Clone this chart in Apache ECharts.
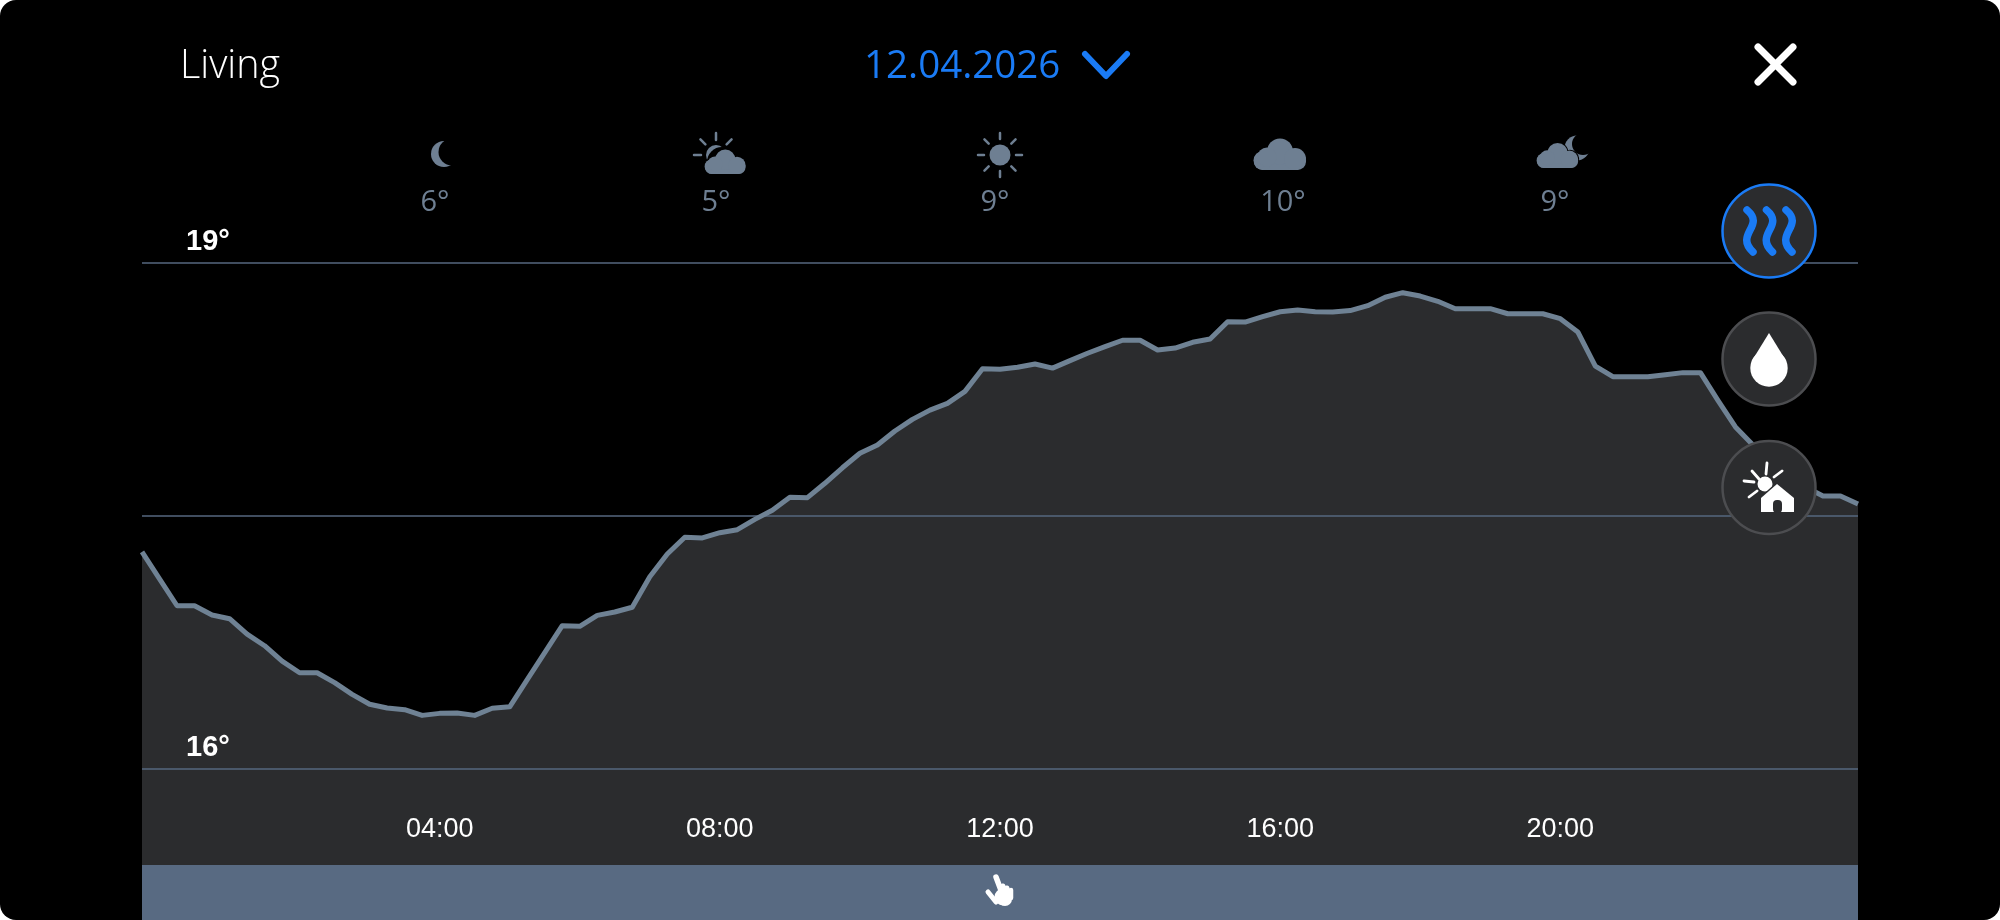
<!DOCTYPE html>
<html><head><meta charset="utf-8">
<style>html,body{margin:0;padding:0;background:#fff;width:2000px;height:920px;overflow:hidden}
#c{width:2000px;height:920px;background:#000;border-radius:16px;overflow:hidden}</style>
<script src="https://cdn.jsdelivr.net/npm/echarts@6/dist/echarts.min.js"></script>
</head><body><div id="c"></div>
<script>
const times = ["23:45","00:00","00:15","00:30","00:45","01:00","01:15","01:30","01:45","02:00","02:15","02:30","02:45","03:00","03:15","03:30","03:45","04:00","04:15","04:30","04:45","05:00","05:15","05:30","05:45","06:00","06:15","06:30","06:45","07:00","07:15","07:30","07:45","08:00","08:15","08:30","08:45","09:00","09:15","09:30","09:45","10:00","10:15","10:30","10:45","11:00","11:15","11:30","11:45","12:00","12:15","12:30","12:45","13:00","13:15","13:30","13:45","14:00","14:15","14:30","14:45","15:00","15:15","15:30","15:45","16:00","16:15","16:30","16:45","17:00","17:15","17:30","17:45","18:00","18:15","18:30","18:45","19:00","19:15","19:30","19:45","20:00","20:15","20:30","20:45","21:00","21:15","21:30","21:45","22:00","22:15","22:30","22:45","23:00","23:15","23:30","23:45","24:00","24:15"];
const temperature = [17.287,17.127,16.968,16.968,16.913,16.891,16.800,16.731,16.640,16.571,16.571,16.512,16.443,16.384,16.362,16.352,16.318,16.330,16.332,16.318,16.360,16.369,16.530,16.690,16.850,16.846,16.911,16.931,16.959,17.140,17.275,17.374,17.370,17.401,17.419,17.480,17.534,17.611,17.609,17.694,17.786,17.872,17.921,18.004,18.073,18.128,18.168,18.239,18.373,18.370,18.382,18.401,18.377,18.421,18.465,18.504,18.542,18.542,18.484,18.496,18.530,18.549,18.652,18.650,18.682,18.711,18.721,18.711,18.710,18.718,18.747,18.797,18.824,18.804,18.773,18.729,18.729,18.729,18.699,18.699,18.699,18.670,18.591,18.389,18.326,18.326,18.326,18.338,18.350,18.350,18.186,18.028,17.921,17.826,17.749,17.672,17.619,17.619,17.571];
const xTickLabels = ["04:00","08:00","12:00","16:00","20:00"];
const yGridValues = [16,17.5,19];
const yLabelValues = [16,19];
const outsideTemps = ["6°","5°","9°","10°","9°"];
const outsideTempX = [435,716,995,1283,1555];
const roomName = "Living";
const dateText = "12.04.2026";

const grey='#6e7f92', blue='#1a7bf5', white='#fff', pane='#2b2c2e', Z=20;
const T=(text,x,y,font,fill,align)=>({type:'text',z:Z,style:{text,x,y,font,fill,align:align||'left',verticalAlign:'middle'}});
const C=(cx,cy,r,fill,extra)=>({type:'circle',z:Z,shape:{cx,cy,r},style:Object.assign({fill},extra||{})});
const L=(x1,y1,x2,y2,stroke,w)=>({type:'line',z:Z,shape:{x1,y1,x2,y2},style:{stroke,lineWidth:w,lineCap:'round'}});
const R=(x,y,width,height,fill,r)=>({type:'rect',z:Z,shape:{x,y,width,height,r:r||0},style:{fill}});
const P=(points,fill)=>({type:'polygon',z:Z,shape:{points},style:{fill}});
const rays=(cx,cy,r0,r1,w,angles,col)=>angles.map(a=>{const t=a*Math.PI/180;return L(cx+r0*Math.cos(t),cy+r0*Math.sin(t),cx+r1*Math.cos(t),cy+r1*Math.sin(t),col,w);});
const cloud=(x,y,s,col)=>[
  R(x,y-18*s,52*s,18*s,col,8.5*s),C(x+9*s,y-9.5*s,9.5*s,col),C(x+26*s,y-18.5*s,13*s,col),C(x+41*s,y-11*s,11*s,col),C(x+13*s,y-13*s,9.5*s,col)];
const wave=(cx,cy)=>({type:'bezierCurve',z:Z,shape:{x1:cx-3,y1:cy-21,cpx1:cx+16,cpy1:cy-5,cpx2:cx-16,cpy2:cy+3,x2:cx+3,y2:cy+21},style:{stroke:blue,lineWidth:7.5,lineCap:'round',fill:'none'}});

const deco=[
  T(roomName,180,67,'300 39.5px "Open Sans"',white),
  T(dateText,864,67,'400 38.5px "Open Sans"',blue),
  {type:'polyline',z:Z,shape:{points:[[1085,54],[1106,76],[1127,54]]},style:{stroke:blue,lineWidth:6,lineCap:'round',lineJoin:'round',fill:'none'}},
  L(1758,47,1793,82,white,7),L(1793,47,1758,82,white,7),
  C(444,154,13,grey),C(452,152,13.5,'#000'),
  ...rays(716,155,15,22,2.5,[-180,-135,-90,-45],grey),C(716,155,10,grey),
  C(722,162,15,'#000'),...cloud(704,174,0.82,'#000'),...cloud(705,174,0.78,grey),
  ...rays(1000,155,16,22,2.5,[0,45,90,135,180,225,270,315],grey),C(1000,155,10.5,grey),
  ...cloud(1254,170,1,grey),
  C(1577,148,12.5,grey),C(1583,144,11,'#000'),...cloud(1536,168,0.83,'#000'),...cloud(1537,168,0.79,grey),
  C(1769,231,46.5,pane,{stroke:blue,lineWidth:2.5}),wave(1750,231),wave(1769.5,231),wave(1789,231),
  C(1769,359,46.5,pane,{stroke:'#4c4d50',lineWidth:2.5}),
  C(1769,368,18.7,white),P([[1769,333],[1751.8,361],[1786.2,361]],white),
  C(1769,487.5,46.5,pane,{stroke:'#4c4d50',lineWidth:2.5}),
  C(1765,484,7.5,white),
  ...[[1752,471,1759,479],[1767,463,1766,474],[1782,471,1774,477],[1744,481,1754,482],[1749,497,1757,491]].map(a=>L(a[0],a[1],a[2],a[3],white,2.8)),
  P([[1777,482],[1759,498],[1765,505],[1790,505],[1796,498]],pane),
  P([[1777,484],[1761,498],[1761,512],[1794,512],[1794,498]],white),
  R(1773,500,9,13,pane,4),
  R(142,865,1716,55,'#586a82'),
  L(996,877,1002,893,white,5.5),L(1003,886,1006,896,white,5),L(1007,888,1009,896,white,5),L(1011,890,1011,898,white,4.5),
  L(988,892,996,902,white,5),C(1003,897,8.5,white),C(1005,899,7,white)
];
outsideTemps.forEach((t,i)=>deco.push(T(t,outsideTempX[i],203,'400 29px "Open Sans"',grey,'center')));

const chart=echarts.init(document.getElementById('c'),null,{renderer:'canvas'});
chart.setOption({
  animation:false,backgroundColor:'transparent',
  grid:{left:142,top:263,width:1716,height:602},
  xAxis:{type:'category',data:times,boundaryGap:false,z:5,
    axisLine:{show:false},axisTick:{show:false},splitLine:{show:false},
    axisLabel:{inside:true,margin:22,color:'#fff',fontFamily:'"Liberation Sans"',fontSize:27,
      interval:(i,v)=>xTickLabels.includes(v)&&i<90}},
  yAxis:{type:'value',min:15.431,max:19,z:5,
    axisLine:{show:false},
    axisTick:{show:false,customValues:yGridValues},
    splitLine:{show:true,lineStyle:{color:'#56677f',width:1.5}},
    axisLabel:{inside:true,margin:44,customValues:yLabelValues,formatter:v=>v+'°',color:'#fff',fontFamily:'"Liberation Sans"',fontWeight:'bold',fontSize:29,
      verticalAlign:'bottom',padding:[0,0,7,0]}},
  series:[
    {type:'line',z:1,data:temperature,showSymbol:false,lineStyle:{width:0},areaStyle:{color:pane,opacity:1,origin:'start'}},
    {type:'line',z:6,data:temperature,showSymbol:false,lineStyle:{color:'#6f8294',width:5,join:'round'}}
  ],
  graphic:{elements:deco}
});
</script></body></html>
